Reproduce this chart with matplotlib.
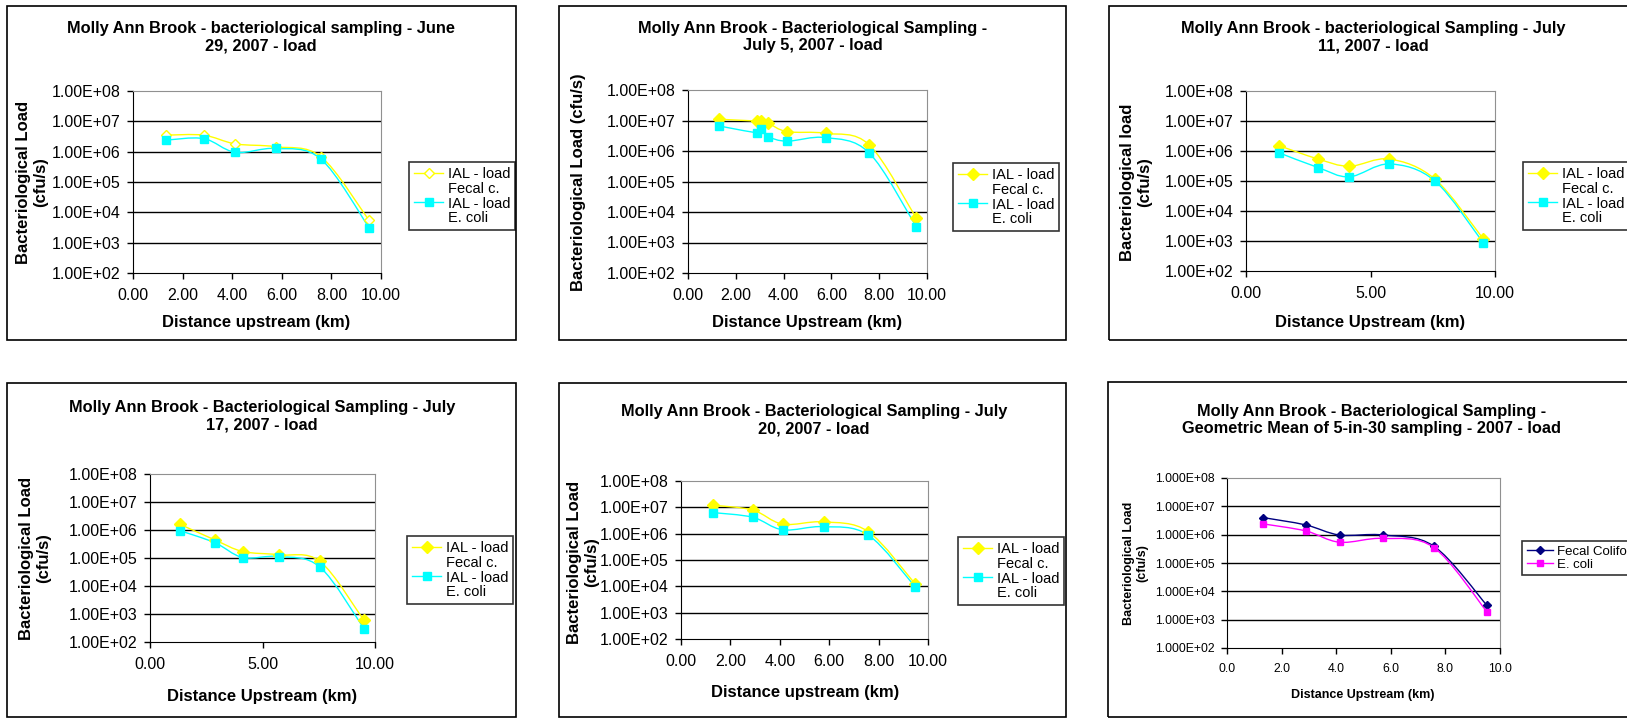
import numpy as np
import matplotlib
matplotlib.use("Agg")
import matplotlib.pyplot as plt
from matplotlib.path import Path
from matplotlib.patches import PathPatch, Rectangle
from matplotlib.lines import Line2D

plt.rcParams['font.family'] = ['Liberation Sans', 'DejaVu Sans']

W, H = 1627, 718

# distances upstream (km) and loads (cfu/s)
june29_x = [1.33, 2.85, 4.13, 5.77, 7.58, 9.52]
june29_fecal = [3.5e6, 3.5e6, 1.8e6, 1.45e6, 6.8e5, 5.4e3]
june29_ecoli = [2.4e6, 2.7e6, 9.5e5, 1.28e6, 5.7e5, 3.1e3]

july5_x = [1.31, 2.88, 3.05, 3.36, 4.15, 5.76, 7.58, 9.55]
july5_fecal = [1.1e7, 9.6e6, 9.6e6, 8.1e6, 4.3e6, 3.8e6, 1.6e6, 6.3e3]
july5_ecoli = [6.6e6, 4.0e6, 5.3e6, 2.95e6, 2.1e6, 2.75e6, 8.7e5, 3.3e3]

july11_x = [1.33, 2.90, 4.15, 5.76, 7.59, 9.52]
july11_fecal = [1.5e6, 5.4e5, 3.1e5, 5.4e5, 1.15e5, 1.2e3]
july11_ecoli = [8.7e5, 2.8e5, 1.38e5, 3.7e5, 1.0e5, 8.9e2]

july17_x = [1.33, 2.89, 4.13, 5.75, 7.56, 9.51]
july17_fecal = [1.6e6, 4.4e5, 1.7e5, 1.3e5, 7.5e4, 5.9e2]
july17_ecoli = [9.5e5, 3.5e5, 1.04e5, 1.13e5, 4.7e4, 3.0e2]

july20_x = [1.31, 2.90, 4.12, 5.77, 7.58, 9.49]
july20_fecal = [1.2e7, 7.9e6, 2.3e6, 2.8e6, 1.2e6, 1.2e4]
july20_ecoli = [6.3e6, 4.2e6, 1.4e6, 1.85e6, 8.9e5, 9.3e3]

geomean_x = [1.33, 2.89, 4.13, 5.73, 7.58, 9.52]
geomean_fecal = [4.0e6, 2.2e6, 9.7e5, 9.7e5, 3.9e5, 3.2e3]
geomean_ecoli = [2.4e6, 1.35e6, 5.4e5, 7.4e5, 3.5e5, 1.9e3]

titles = [
    "Molly Ann Brook - bacteriological sampling - June\n29, 2007 - load",
    "Molly Ann Brook - Bacteriological Sampling -\nJuly 5, 2007 - load",
    "Molly Ann Brook - bacteriological Sampling - July\n11, 2007 - load",
    "Molly Ann Brook - Bacteriological Sampling - July\n17, 2007 - load",
    "Molly Ann Brook - Bacteriological Sampling - July\n20, 2007 - load",
    "Molly Ann Brook - Bacteriological Sampling -\nGeometric Mean of 5-in-30 sampling - 2007 - load",
]
ylabels = [
    "Bacteriological Load\n(cfu/s)",
    "Bacteriological Load (cfu/s)",
    "Bacteriological load\n(cfu/s)",
    "Bacteriological Load\n(cfu/s)",
    "Bacteriological Load\n(cfu/s)",
    "Bacteriological Load\n(cfu/s)",
]
xlabels = [
    "Distance upstream (km)",
    "Distance Upstream (km)",
    "Distance Upstream (km)",
    "Distance Upstream (km)",
    "Distance upstream (km)",
    "Distance Upstream (km)",
]
xticks_a = [0, 2, 4, 6, 8, 10]
xticks_b = [0, 5, 10]
yticks = [1e2, 1e3, 1e4, 1e5, 1e6, 1e7, 1e8]
# each IAL legend entry wraps onto a second line
legend_labels_ial = [["IAL - load", "Fecal c."], ["IAL - load", "E. coli"]]
legend_labels_mean = [["Fecal Coliform"], ["E. coli"]]


def fig_rect(l, t, r, b):
    return [l / W, 1 - b / H, (r - l) / W, (b - t) / H]


def smooth_path(x, y):
    # Excel-style smoothed line: Bezier segments in (x, log y) space
    pts = np.column_stack([np.asarray(x, float), np.log10(y)])
    n = len(pts)
    verts = [pts[0]]
    codes = [Path.MOVETO]
    for i in range(n - 1):
        p0 = pts[max(i - 1, 0)]
        p1 = pts[i]
        p2 = pts[i + 1]
        p3 = pts[min(i + 2, n - 1)]
        verts += [p1 + (p2 - p0) / 6, p2 - (p3 - p1) / 6, p2]
        codes += [Path.CURVE4] * 3
    verts = np.array(verts)
    verts[:, 1] = 10 ** verts[:, 1]
    return Path(verts, codes)


def draw_panel(fig, box, axr, x, fecal, ecoli, title, tpos, ylabel, ypos,
               xlabel, xpos, xticks, xfmt, yfmt, legpos, styles, labels,
               fs_tick=11.5, fs_lab=12, fs_title=11.8, fs_leg=10.5, ms=6):
    fig.patches.append(Rectangle((box[0] / W, 1 - box[3] / H),
                                 (box[2] - box[0]) / W, (box[3] - box[1]) / H,
                                 transform=fig.transFigure, fill=False,
                                 edgecolor='black', linewidth=1.2))
    ax = fig.add_axes(fig_rect(*axr))
    ax.set_yscale('log')
    ax.set_xlim(0, 10)
    ax.set_ylim(1e2, 1e8)
    ax.set_yticks(yticks)
    ax.yaxis.set_minor_locator(plt.NullLocator())
    ax.set_yticklabels([yfmt.format(v).replace('e', 'E') for v in yticks])
    ax.set_xticks(xticks)
    ax.set_xticklabels([xfmt.format(v) for v in xticks])
    ax.tick_params(axis='both', direction='out', length=4, width=1,
                   labelsize=fs_tick, pad=5, color='black')
    ax.tick_params(axis='x', pad=7)
    for yv in yticks[1:-1]:
        ax.axhline(yv, color='black', linewidth=1, zorder=1)
    ax.spines['left'].set_color('black')
    ax.spines['bottom'].set_color('black')
    ax.spines['top'].set_color('#909090')
    ax.spines['right'].set_color('#909090')

    handles, texts = [], []
    for ys, st, lab in zip([fecal, ecoli], styles, labels):
        ax.add_patch(PathPatch(smooth_path(x, ys), fill=False,
                               edgecolor=st['color'], linewidth=1.0, zorder=3))
        ax.plot(x, ys, linestyle='none', marker=st['marker'], markersize=ms,
                markerfacecolor=st['mfc'], markeredgecolor=st['color'],
                markeredgewidth=1, zorder=4)
        handles.append(Line2D([], [], color=st['color'], linewidth=1.0,
                              marker=st['marker'], markersize=ms,
                              markerfacecolor=st['mfc'],
                              markeredgecolor=st['color']))
        texts.append(lab[0])
        for extra in lab[1:]:
            handles.append(Line2D([], [], linestyle='none'))
            texts.append(extra)

    leg = ax.legend(handles, texts, loc='upper left',
                    bbox_to_anchor=(legpos[0] / W, 1 - legpos[1] / H),
                    bbox_transform=fig.transFigure, borderaxespad=0,
                    fontsize=fs_leg, frameon=True, fancybox=False,
                    edgecolor='black', handlelength=2.0, handletextpad=0.3,
                    labelspacing=0.05, borderpad=0.35)
    leg.get_frame().set_linewidth(1.2)

    fig.text(tpos[0] / W, 1 - tpos[1] / H, title, ha='center', va='center',
             fontsize=fs_title, fontweight='bold', linespacing=1.2)
    fig.text(ypos[0] / W, 1 - ypos[1] / H, ylabel, ha='center', va='center',
             rotation=90, fontsize=fs_lab, fontweight='bold', linespacing=1.15)
    fig.text(xpos[0] / W, 1 - xpos[1] / H, xlabel, ha='center', va='center',
             fontsize=fs_lab, fontweight='bold')
    return ax


fig = plt.figure(figsize=(W / 100, H / 100), dpi=100)

ial_open = [dict(color='#FFFF00', marker='D', mfc='white'),
            dict(color='#00FFFF', marker='s', mfc='#00FFFF')]
ial = [dict(color='#FFFF00', marker='D', mfc='#FFFF00'),
       dict(color='#00FFFF', marker='s', mfc='#00FFFF')]
mean_styles = [dict(color='#000080', marker='D', mfc='#000080'),
               dict(color='#FF00FF', marker='s', mfc='#FF00FF')]

draw_panel(fig, (7, 6, 516, 340), (133, 91, 381, 273),
           june29_x, june29_fecal, june29_ecoli, titles[0], (261, 37),
           ylabels[0], (32, 182), xlabels[0], (256, 322),
           xticks_a, "{:.2f}", "{:.2e}", (409, 162), ial_open, legend_labels_ial,
           ms=5.5)
draw_panel(fig, (559, 6, 1066, 340), (688, 90, 927, 273),
           july5_x, july5_fecal, july5_ecoli, titles[1], (813, 37),
           ylabels[1], (578, 182), xlabels[1], (807, 323),
           xticks_a, "{:.2f}", "{:.2e}", (953, 163), ial, legend_labels_ial)
draw_panel(fig, (1109, 6, 1640, 340), (1246, 91, 1495, 271),
           july11_x, july11_fecal, july11_ecoli, titles[2], (1373, 37),
           ylabels[2], (1136, 182), xlabels[2], (1370, 323),
           xticks_b, "{:.2f}", "{:.2e}", (1523, 162), ial, legend_labels_ial)
draw_panel(fig, (7, 383, 516, 717), (150, 474, 375, 642),
           july17_x, july17_fecal, july17_ecoli, titles[3], (262, 416),
           ylabels[3], (35, 558), xlabels[3], (262, 697),
           xticks_b, "{:.2f}", "{:.2e}", (407, 536), ial, legend_labels_ial)
draw_panel(fig, (559, 383, 1066, 717), (681, 481, 928, 639),
           july20_x, july20_fecal, july20_ecoli, titles[4], (814, 420),
           ylabels[4], (583, 562), xlabels[4], (805, 693),
           xticks_a, "{:.2f}", "{:.2e}", (958, 537), ial, legend_labels_ial)
draw_panel(fig, (1108, 382, 1640, 717), (1227, 478, 1500, 648),
           geomean_x, geomean_fecal, geomean_ecoli, titles[5], (1372, 420),
           ylabels[5], (1136, 563), xlabels[5], (1363, 695),
           xticks_a, "{:.1f}", "{:.3e}", (1522, 541), mean_styles,
           legend_labels_mean, fs_tick=8.8, fs_lab=9, fs_title=11.8,
           fs_leg=9.5, ms=4)

fig.savefig("out.png", dpi=100)
